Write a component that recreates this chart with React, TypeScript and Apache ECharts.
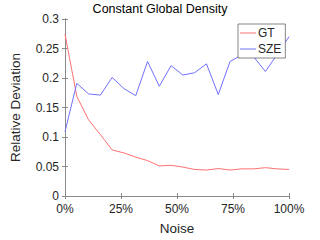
import React, { useEffect, useRef } from "react";
import * as echarts from "echarts";

const noiseLevels: number[] = Array.from({ length: 20 }, (_, i) => i / 19);
const gtValues: number[] = [
  0.274, 0.169, 0.129, 0.104, 0.078, 0.073, 0.066, 0.06, 0.051, 0.052,
  0.049, 0.045, 0.044, 0.0465, 0.044, 0.046, 0.046, 0.048, 0.046, 0.045,
];
const szeValues: number[] = [
  0.109, 0.191, 0.173, 0.171, 0.201, 0.182, 0.17, 0.228, 0.186, 0.221,
  0.205, 0.209, 0.224, 0.172, 0.228, 0.239, 0.236, 0.211, 0.24, 0.27,
];
const seriesNames = ["GT", "SZE"];
const titleText = "Constant Global Density";
const xName = "Noise";
const yName = "Relative Deviation";

const FONT = "Liberation Sans, Arial, Helvetica, sans-serif";
const TXT = "#262626";
const AX = "#8a8a8a";
const RED = "#ff7070";
const BLUE = "#7070ff";

export default function App() {
  const ref = useRef<HTMLDivElement>(null);
  useEffect(() => {
    if (!ref.current) return;
    const chart = echarts.init(ref.current, undefined, { renderer: "svg" });
    const baseX = {
      type: "value" as const,
      min: 0,
      max: 1,
      interval: 0.25,
      splitLine: { show: false },
      axisLine: { show: true, lineStyle: { color: AX, width: 1 } },
      axisTick: { show: true, inside: true, length: 3, lineStyle: { color: AX } },
    };
    const baseY = {
      type: "value" as const,
      min: 0,
      max: 0.3,
      interval: 0.05,
      splitLine: { show: false },
      axisLine: { show: true, lineStyle: { color: AX, width: 1 } },
      axisTick: { show: true, inside: true, length: 3, lineStyle: { color: AX } },
    };
    chart.setOption({
      animation: false,
      backgroundColor: "#ffffff",
      textStyle: { fontFamily: FONT },
      title: {
        text: titleText,
        left: 160,
        top: 2,
        padding: 0,
        textAlign: "center",
        textStyle: { fontSize: 12.5, fontWeight: "normal", color: "#000", fontFamily: FONT },
      },
      grid: { left: 49, right: 31, top: 19, bottom: 36 },
      legend: {
        data: seriesNames,
        orient: "vertical",
        left: 238,
        top: 24,
        padding: [2, 4, 2, 2],
        itemGap: 2,
        itemWidth: 16,
        itemHeight: 1,
        icon: "rect",
        backgroundColor: "#ffffff",
        borderColor: "#333333",
        borderWidth: 0.6,
        textStyle: {
          fontSize: 12,
          color: TXT,
          fontFamily: FONT,
          lineHeight: 14,
          padding: [0, 0, 0, -3],
        },
      },
      xAxis: [
        {
          ...baseX,
          position: "bottom",
          name: xName,
          nameLocation: "middle",
          nameGap: 25,
          nameTextStyle: { fontSize: 13.5, color: TXT, fontFamily: FONT },
          axisLabel: {
            fontSize: 12,
            color: TXT,
            margin: 7,
            fontFamily: FONT,
            formatter: (v: number) => `${Math.round(v * 100)}%`,
          },
        },
        { ...baseX, position: "top", axisLabel: { show: false } },
      ],
      yAxis: [
        {
          ...baseY,
          position: "left",
          name: yName,
          nameLocation: "middle",
          nameGap: 43,
          nameRotate: 90,
          nameTextStyle: { fontSize: 13.5, color: TXT, fontFamily: FONT },
          axisLabel: {
            fontSize: 12,
            color: TXT,
            margin: 6,
            fontFamily: FONT,
            formatter: (v: number) => `${parseFloat(v.toFixed(2))}`,
          },
        },
        { ...baseY, position: "right", axisLabel: { show: false } },
      ],
      series: [
        {
          name: seriesNames[0],
          type: "line",
          symbol: "none",
          data: noiseLevels.map((x, i) => [x, gtValues[i]]),
          lineStyle: { color: RED, width: 1 },
          itemStyle: { color: RED },
          z: 2,
        },
        {
          name: seriesNames[1],
          type: "line",
          symbol: "none",
          data: noiseLevels.map((x, i) => [x, szeValues[i]]),
          lineStyle: { color: BLUE, width: 1 },
          itemStyle: { color: BLUE },
          z: 2,
        },
      ],
    });
    return () => chart.dispose();
  }, []);
  return <div ref={ref} style={{ width: 320, height: 240, position: "absolute", left: 0, top: 0 }} />;
}
